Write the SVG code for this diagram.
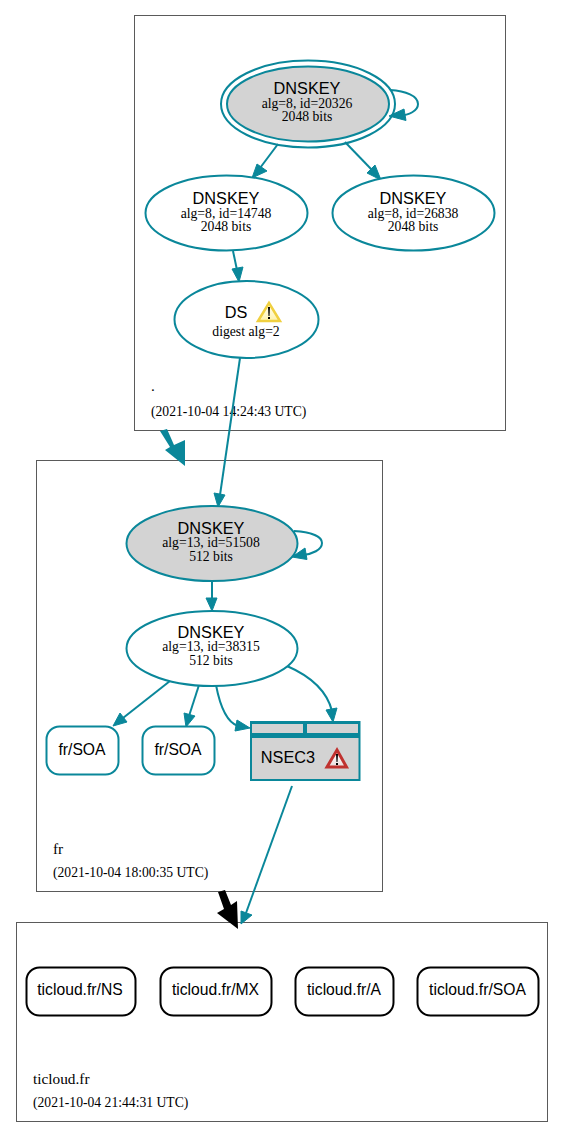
<svg xmlns="http://www.w3.org/2000/svg" width="564" height="1138" viewBox="0 0 564 1138">
<defs>
<linearGradient id="yw" x1="0" y1="0" x2="0" y2="1"><stop offset="0" stop-color="#fff"/><stop offset="1" stop-color="#fff3a8"/></linearGradient>
<linearGradient id="rw" x1="0" y1="0" x2="0" y2="1"><stop offset="0.3" stop-color="#fff"/><stop offset="1" stop-color="#e8d8d8"/></linearGradient>
</defs>
<style>
.c{fill:none;stroke:#5a5a5a;stroke-width:1}
.n{fill:#fff;stroke:#0a879a;stroke-width:2}
.g{fill:#d3d3d3;stroke:#0a879a;stroke-width:2}
.e{fill:none;stroke:#0a879a;stroke-width:2}
.h{fill:#0a879a;stroke:#0a879a}
.s{font-family:"Liberation Sans",Arial,sans-serif;font-size:16.300px;fill:#000;text-anchor:middle}
.r{font-family:"Liberation Sans",Arial,sans-serif;font-size:15.700px;fill:#000;text-anchor:middle}
.t{font-family:"Liberation Serif","Times New Roman",serif;font-size:13.700px;fill:#000;text-anchor:middle}
.l{font-family:"Liberation Serif","Times New Roman",serif;font-size:15.300px;fill:#000}
.d{font-family:"Liberation Serif","Times New Roman",serif;font-size:13.650px;fill:#000}
.b{fill:#fff;stroke:#000;stroke-width:2}
</style>
<rect width="564" height="1138" fill="#fff"/>
<g id="clusters">
<rect class="c" x="134.500" y="15.500" width="371" height="415"/>
<rect class="c" x="36.500" y="460.500" width="346" height="431"/>
<rect class="c" x="16.500" y="922.500" width="531" height="199"/>
<text class="l" x="151" y="391">.</text>
<text class="d" x="151" y="415.500">(2021-10-04 14:24:43 UTC)</text>
<text class="l" x="53" y="854">fr</text>
<text class="d" x="53" y="876.500">(2021-10-04 18:00:35 UTC)</text>
<text class="l" x="33" y="1084">ticloud.fr</text>
<text class="d" x="33" y="1106.500">(2021-10-04 21:44:31 UTC)</text>
</g>
<g id="connectors">
<path class="e" d="M390 90C406 91 418 96 418 104C418 111 409 115 399 116"/>
<polygon class="h" points="389,116 404,109 406,120.500"/>
<path class="e" d="M278 144L260 168"/>
<polygon class="h" points="252,178 257,164 267,171"/>
<path class="e" d="M345 142L372 170"/>
<polygon class="h" points="381,180 367,173 375,165"/>
<path class="e" d="M233 251L237 270"/>
<polygon class="h" points="239,282 232,269 243,267"/>
<path class="e" d="M240 358L220 495"/>
<polygon class="h" points="218,507 214,493 225,495"/>
<path class="e" d="M294 531C310 532 322 536 322 543C322 550 312 554 303 555"/>
<polygon class="h" points="292,557 305,548 307,559.500"/>
<path class="e" d="M212 582L212 599"/>
<polygon class="h" points="212,611 206,598 217,598"/>
<path class="e" d="M170 681L123 718"/>
<polygon class="h" points="113,726 120,713 127,722"/>
<path class="e" d="M199 685L189 716"/>
<polygon class="h" points="186,727 184,713 195,716"/>
<path class="e" d="M216 685C220 706 226 722 238 726"/>
<polygon class="h" points="250,728 235,731 237,720"/>
<path class="e" d="M287 666C310 676 327 691 332 711"/>
<polygon class="h" points="333,722 326,710 337,708"/>
<path class="e" d="M292 786L246 913"/>
<polygon class="h" points="241,924 241,911 252,915"/>
<polygon points="160,431 167,429 174,445 185,440 185,466 165,450 170,447" fill="#0a879a"/>
<polygon points="218,892 225,890 231,905 237,901 238,929 217,913 224,909" fill="#000"/>
</g>
<g id="k20326">
<ellipse class="e" cx="308" cy="104" rx="87" ry="43.500"/>
<ellipse class="g" cx="308" cy="104" rx="81" ry="37.500"/>
<text class="s" x="307" y="94">DNSKEY</text>
<text class="t" x="307" y="108">alg=8, id=20326</text>
<text class="t" x="307" y="121">2048 bits</text>
</g>
<g id="k14748">
<ellipse class="n" cx="226.500" cy="213" rx="81" ry="37.500"/>
<text class="s" x="226" y="204">DNSKEY</text>
<text class="t" x="226" y="218">alg=8, id=14748</text>
<text class="t" x="226" y="231">2048 bits</text>
</g>
<g id="k26838">
<ellipse class="n" cx="413.500" cy="213" rx="81" ry="37.500"/>
<text class="s" x="413" y="204">DNSKEY</text>
<text class="t" x="413" y="218">alg=8, id=26838</text>
<text class="t" x="413" y="231">2048 bits</text>
</g>
<g id="ds">
<ellipse class="n" cx="246.500" cy="319.500" rx="72" ry="38.500"/>
<text class="s" x="236" y="318">DS</text>
<text class="t" x="246" y="336">digest alg=2</text>
<polygon points="269,303 280,321 258,321" fill="url(#yw)" stroke="#f0d040" stroke-width="2.500"/>
<polygon points="268,307 270,307 269.500,316 268.500,316" fill="#000"/>
<rect x="268" y="317" width="2" height="2" fill="#000"/>
</g>
<g id="k51508">
<ellipse class="g" cx="212" cy="543.500" rx="85.500" ry="37.500"/>
<text class="s" x="211" y="534">DNSKEY</text>
<text class="t" x="211" y="547">alg=13, id=51508</text>
<text class="t" x="211" y="561">512 bits</text>
</g>
<g id="k38315">
<ellipse class="n" cx="212" cy="648.500" rx="85.500" ry="37.500"/>
<text class="s" x="211" y="638">DNSKEY</text>
<text class="t" x="211" y="651">alg=13, id=38315</text>
<text class="t" x="211" y="665">512 bits</text>
</g>
<g id="soa1">
<rect class="n" x="46.500" y="726.500" width="72" height="48" rx="13"/>
<text class="r" x="82" y="755">fr/SOA</text>
</g>
<g id="soa2">
<rect class="n" x="142.500" y="726.500" width="72" height="48" rx="13"/>
<text class="r" x="178" y="755">fr/SOA</text>
</g>
<g id="nsec3">
<rect x="250" y="721" width="110.500" height="60" fill="#0a879a"/>
<rect x="252" y="724" width="51" height="9" fill="#d3d3d3"/>
<rect x="307" y="724" width="51" height="9" fill="#d3d3d3"/>
<rect x="252" y="738" width="106.500" height="41" fill="#d3d3d3"/>
<text class="s" x="288" y="763">NSEC3</text>
<polygon points="337,750 346.500,767 327,767" fill="url(#rw)" stroke="#c0322f" stroke-width="3"/>
<polygon points="336,754 338,754 337.500,762 336.500,762" fill="#000"/>
<rect x="336" y="763" width="2" height="2" fill="#000"/>
</g>
<g id="t1">
<rect class="b" x="26.500" y="967.500" width="109" height="48" rx="13"/>
<text class="r" x="80" y="995">ticloud.fr/NS</text>
</g>
<g id="t2">
<rect class="b" x="160.500" y="967.500" width="111" height="48" rx="13"/>
<text class="r" x="215.500" y="995">ticloud.fr/MX</text>
</g>
<g id="t3">
<rect class="b" x="295.500" y="967.500" width="98" height="48" rx="13"/>
<text class="r" x="344" y="995">ticloud.fr/A</text>
</g>
<g id="t4">
<rect class="b" x="417.500" y="967.500" width="121" height="48" rx="13"/>
<text class="r" x="477.500" y="995">ticloud.fr/SOA</text>
</g>
</svg>
